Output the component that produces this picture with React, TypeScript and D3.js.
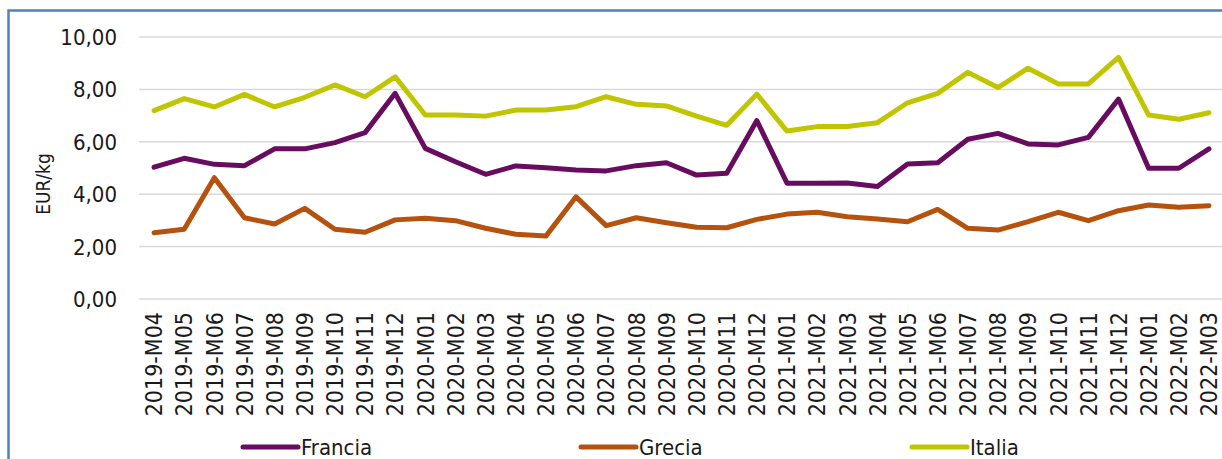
import React from "react";
import * as d3 from "d3";

const months = [
  "2019-M04", "2019-M05", "2019-M06", "2019-M07", "2019-M08", "2019-M09",
  "2019-M10", "2019-M11", "2019-M12", "2020-M01", "2020-M02", "2020-M03",
  "2020-M04", "2020-M05", "2020-M06", "2020-M07", "2020-M08", "2020-M09",
  "2020-M10", "2020-M11", "2020-M12", "2021-M01", "2021-M02", "2021-M03",
  "2021-M04", "2021-M05", "2021-M06", "2021-M07", "2021-M08", "2021-M09",
  "2021-M10", "2021-M11", "2021-M12", "2022-M01", "2022-M02", "2022-M03",
];

const francia = [
  5.03, 5.37, 5.14, 5.09, 5.73, 5.73, 5.97, 6.35, 7.85, 5.75, 5.24, 4.76,
  5.08, 5.01, 4.92, 4.89, 5.09, 5.2, 4.73, 4.8, 6.81, 4.42, 4.42, 4.43,
  4.29, 5.15, 5.2, 6.1, 6.32, 5.92, 5.88, 6.17, 7.63, 4.99, 4.99, 5.73,
];

const grecia = [
  2.53, 2.66, 4.63, 3.1, 2.86, 3.46, 2.66, 2.55, 3.02, 3.08, 2.99, 2.7,
  2.47, 2.4, 3.9, 2.8, 3.1, 2.91, 2.74, 2.72, 3.04, 3.24, 3.31, 3.14,
  3.05, 2.95, 3.42, 2.7, 2.63, 2.95, 3.31, 2.99, 3.37, 3.59, 3.5, 3.56,
];

const italia = [
  7.19, 7.65, 7.33, 7.81, 7.33, 7.7, 8.17, 7.72, 8.48, 7.02, 7.02, 6.98,
  7.21, 7.21, 7.34, 7.72, 7.43, 7.37, 6.98, 6.63, 7.82, 6.41, 6.58, 6.58,
  6.73, 7.49, 7.85, 8.65, 8.07, 8.81, 8.21, 8.21, 9.22, 7.02, 6.86, 7.11,
];

const yTicks = [0, 2, 4, 6, 8, 10];

const series = [
  { name: "Francia", values: francia, color: "#680c60" },
  { name: "Grecia", values: grecia, color: "#b4520e" },
  { name: "Italia", values: italia, color: "#c0c500" },
];

const W = 1222;
const H = 459;
const font = "'DejaVu Sans Condensed', 'DejaVu Sans', sans-serif";

export default function App() {
  const x = d3.scalePoint<string>().domain(months).range([139, 1224]).padding(0.5);
  const y = d3.scaleLinear().domain([0, 10]).range([299, 37]);
  const line = d3
    .line<number>()
    .x((_, i) => x(months[i]) ?? 0)
    .y((d) => y(d));

  // legend positions (line start) for each series
  const legendX = [243, 581, 912];

  return (
    <svg
      width={W}
      height={H}
      style={{ position: "absolute", left: 0, top: 0, background: "#fff" }}
      fontFamily={font}
    >
      <rect x={8.5} y={10.5} width={W + 20} height={H + 20} fill="#fff" stroke="#4f81bd" strokeWidth={2.5} />

      {yTicks.map((t) => (
        <g key={t}>
          <line x1={139} x2={1224} y1={y(t)} y2={y(t)} stroke="#d9d9d9" strokeWidth={1.5} />
          <text x={117} y={y(t)} dy="0.36em" textAnchor="end" fontSize={22} fill="#1a1a1a">
            {t.toFixed(2).replace(".", ",")}
          </text>
        </g>
      ))}

      <text
        transform={`translate(50,184) rotate(-90)`}
        textAnchor="middle"
        fontSize={19}
        fill="#1a1a1a"
      >
        EUR/kg
      </text>

      {months.map((m) => (
        <text
          key={m}
          transform={`translate(${x(m)},312) rotate(-90)`}
          textAnchor="end"
          dy="0.36em"
          fontSize={23}
          fill="#1a1a1a"
        >
          {m}
        </text>
      ))}

      {series.map((s) => (
        <path
          key={s.name}
          d={line(s.values) ?? ""}
          fill="none"
          stroke={s.color}
          strokeWidth={5}
          strokeLinejoin="round"
          strokeLinecap="round"
        />
      ))}

      {series.map((s, i) => (
        <g key={s.name}>
          <line
            x1={legendX[i]}
            x2={legendX[i] + 55}
            y1={447}
            y2={447}
            stroke={s.color}
            strokeWidth={5}
            strokeLinecap="round"
          />
          <text x={legendX[i] + 58} y={447} dy="0.36em" fontSize={22} fill="#1a1a1a">
            {s.name}
          </text>
        </g>
      ))}
    </svg>
  );
}
